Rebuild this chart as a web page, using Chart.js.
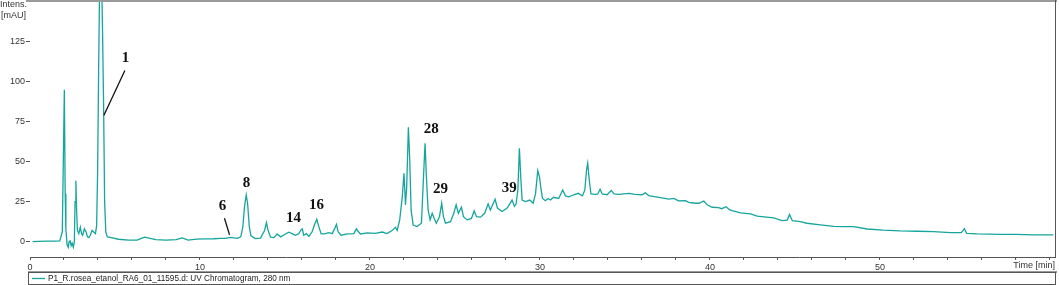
<!DOCTYPE html>
<html>
<head>
<meta charset="utf-8">
<script src="https://cdn.jsdelivr.net/npm/chart.js@4.4.1/dist/chart.umd.min.js"></script>
<style>
html,body{margin:0;padding:0;background:#fff;}
#wrap{width:1059px;height:285px;position:relative;}
</style>
</head>
<body>
<div id="wrap"><canvas id="c" width="1059" height="285"></canvas></div>
<script>
// Retention times (min)
const times = [
0.15,0.5,1.0,1.5,1.75,1.9,1.96,2.02,2.07,2.11,2.18,2.25,2.3,2.36,2.42,2.48,2.55,2.61,2.65,2.7,
2.74,2.79,2.87,2.96,3.03,3.1,3.2,3.3,3.38,3.46,3.55,3.65,3.75,3.85,3.92,3.98,4.04,4.09,4.15,4.22,
4.27,4.33,4.39,4.46,4.55,4.8,5.2,5.8,6.3,6.55,6.75,7.0,7.4,8.0,8.6,8.95,9.3,9.8,10.3,10.8,
11.2,11.5,11.8,12.2,12.4,12.52,12.62,12.72,12.8,12.9,13.0,13.26,13.56,13.8,13.91,14.0,14.15,14.35,14.54,14.74,
15.03,15.22,15.42,15.6,15.8,15.95,16.02,16.1,16.26,16.4,16.6,16.73,16.87,16.99,17.13,17.32,17.58,17.78,17.93,18.03,
18.13,18.3,18.66,19.05,19.2,19.3,19.44,19.84,20.32,20.72,21.0,21.3,21.5,21.6,21.75,21.9,22.0,22.09,22.16,22.26,
22.34,22.42,22.54,22.77,23.03,23.15,23.24,23.32,23.42,23.54,23.66,23.78,23.9,24.09,24.22,24.32,24.44,24.74,24.93,25.07,
25.2,25.38,25.5,25.72,25.97,26.13,26.27,26.5,26.75,26.95,27.08,27.36,27.5,27.77,28.07,28.36,28.5,28.6,28.7,28.79,
28.87,28.95,29.15,29.4,29.6,29.74,29.87,29.97,30.07,30.15,30.32,30.47,30.62,30.8,31.1,31.34,31.5,31.7,32.0,32.25,
32.5,32.64,32.74,32.81,32.9,33.0,33.26,33.4,33.54,33.66,33.95,34.2,34.36,34.63,35.22,35.6,36.0,36.2,36.4,37.0,
37.58,37.87,38.16,38.56,38.75,39.15,39.35,39.64,39.84,40.13,40.5,40.7,40.95,41.15,41.3,41.8,42.38,42.78,43.75,44.24,
44.55,44.68,44.85,45.32,45.7,46.5,47.28,47.8,48.46,49.25,50.2,51.2,52.2,53.16,54.14,54.79,54.97,55.1,55.72,57.09,
58.0,59.05,60.2
];
// UV intensity at 280 nm (mAU)
const intensities = [
0,0.2,0.3,0.3,0.5,6,50,95,30,8,-2,-3.5,0,0.5,-2.5,-1,-3.5,0,25,38,
20,7,5,9,5,4,8,6,3,2.5,4,7,6,5,10,45,110,155,175,160,
130,85,25,6,3,2.5,1.5,1,1,2,2.8,2.2,1.2,0.9,1.2,2.3,1,1.6,1.7,1.8,
2.1,2,2.7,2.1,3,9,22,29.2,24,9.4,3.6,1.9,2.2,7,11.9,7.3,2.8,2.5,4.8,3,
4.8,5.9,5,4,4.8,7.5,8,4,5,3.2,6.2,10.4,14,9.4,4.8,4.8,5.6,5,8.3,10.8,
6,4,4.8,5,8,6.5,4.8,5.5,5.2,6,5,6.9,9,7,13.6,28,42.7,23,34,71.5,
51,19.8,10.4,9.4,11.5,40.6,61.5,40.6,19.8,13.6,17.7,14.5,11.5,15.6,24,15.8,11.5,12.5,17.7,23,
17.7,21.5,15.6,13.6,14.5,19.2,15.6,15.3,17.7,23.6,19.8,26.5,21,18.8,21,26,22,23.6,32.3,58.3,
40.6,26,25,26,24,30,44.4,40.6,32.3,27,25.6,27,26,27.7,27,32.3,28.6,28,29.3,30.2,
28.6,32.3,44.8,49,38.5,29.8,29.6,29.8,32.7,29.8,29.3,32,29.8,29.6,30.2,29.6,29.3,30.5,28.8,27.7,
26.6,27,25.5,25.6,24.6,24,24,25.4,23,21.5,21.3,20.6,21.8,20,19.4,18,17.3,16,14.8,13.1,
13.5,17,13.1,12.5,11.5,10.5,9.6,9.4,9.4,7.9,7.2,6.7,6.5,6.3,5.6,5.6,8.1,5.2,4.8,4.6,
4.5,4.2,4.2
];
// Peak annotations: label, text anchor (time, mAU), optional leader line
const annLabels = ['1','6','8','14','16','28','29','39'];
const annTimes  = [5.62,11.32,12.74,15.5,16.85,23.6,24.15,28.2];
const annValues = [114.8,22.3,36.7,14.8,23,70.4,33,33.6];
const leaderLines = [
  {label:'1', from:[5.58,107], to:[4.35,79]},
  {label:'6', from:[11.44,14.6], to:[11.74,4.2]}
];
const xMajor = [0,10,20,30,40,50];
const yLabels = [0,25,50,75,100,125];
const seriesName = 'P1_R.rosea_etanol_RA6_01_11595.d: UV Chromatogram, 280 nm';

const TEAL = '#16a59c';
const FONT = '"Liberation Sans", Arial, sans-serif';

const points = times.map((t,i)=>({x:t,y:intensities[i]}));

const framePlugin = {
  id:'frame',
  afterDraw(chart){
    const ctx = chart.ctx, a = chart.chartArea;
    const xs = chart.scales.x, ys = chart.scales.y;
    ctx.save();
    // top gray border
    ctx.fillStyle = '#9a9a9a';
    ctx.fillRect(26, 0, 1057-26, 2);
    // right border
    ctx.strokeStyle = '#555';
    ctx.lineWidth = 1;
    ctx.beginPath(); ctx.moveTo(1055.5, 0); ctx.lineTo(1055.5, a.bottom); ctx.stroke();
    // axis caption texts
    ctx.fillStyle = '#333';
    ctx.font = '9px ' + FONT;
    ctx.textAlign = 'right'; ctx.textBaseline = 'middle';
    ctx.fillText('Intens.', 27, 5);
    ctx.fillText('[mAU]', 26, 16);
    ctx.fillText('Time [min]', 1055, 266);
    // legend box
    ctx.fillStyle = '#9a9a9a';
    ctx.fillRect(28, 271, 1057-28, 2);
    ctx.strokeStyle = '#555';
    ctx.strokeRect(28.5, 272.5, 1055.5-28.5, 12);
    ctx.strokeStyle = TEAL; ctx.lineWidth = 1.3;
    ctx.beginPath(); ctx.moveTo(32, 278.5); ctx.lineTo(45, 278.5); ctx.stroke();
    ctx.fillStyle = '#222';
    ctx.textAlign = 'left';
    ctx.font = '8.2px ' + FONT;
    ctx.fillText(seriesName, 48, 278.5);
    // peak annotations
    ctx.fillStyle = '#111';
    ctx.font = 'bold 15px "Liberation Serif", "Times New Roman", serif';
    ctx.textAlign = 'center'; ctx.textBaseline = 'middle';
    annLabels.forEach((l,i)=>{
      ctx.fillText(l, xs.getPixelForValue(annTimes[i]), ys.getPixelForValue(annValues[i]));
    });
    ctx.strokeStyle = '#111'; ctx.lineWidth = 1.3;
    leaderLines.forEach(ln=>{
      ctx.beginPath();
      ctx.moveTo(xs.getPixelForValue(ln.from[0]), ys.getPixelForValue(ln.from[1]));
      ctx.lineTo(xs.getPixelForValue(ln.to[0]), ys.getPixelForValue(ln.to[1]));
      ctx.stroke();
    });
    ctx.restore();
  }
};

new Chart(document.getElementById('c'), {
  type:'line',
  data:{datasets:[{
    label: seriesName,
    data: points,
    borderColor: TEAL,
    borderWidth: 1.3,
    pointRadius: 0,
    tension: 0,
    fill: false
  }]},
  options:{
    responsive:false,
    animation:false,
    devicePixelRatio:1,
    layout:{padding:{top:1,right:4,left:0,bottom:0}},
    plugins:{legend:{display:false},tooltip:{enabled:false}},
    scales:{
      x:{
        type:'linear', min:0, max:60.3,
        afterBuildTicks(s){ const t=[]; for(let v=0; v<=60; v+=2) t.push({value:v}); s.ticks=t; },
        afterFit(s){ s.height = 28; s.paddingLeft = 0; s.paddingRight = 0; },
        grid:{drawOnChartArea:false, tickLength:3, color:'#555', tickColor:'#555'},
        border:{display:true, color:'#555', width:1},
        ticks:{
          autoSkip:false, maxRotation:0, padding:2, color:'#333',
          font:{family:FONT, size:9},
          callback:(v)=> xMajor.includes(v) ? String(v) : ''
        }
      },
      y:{
        type:'linear', min:-9.6, max:150.4,
        afterBuildTicks(s){ s.ticks = yLabels.map(v=>({value:v})); },
        afterFit(s){ s.width = 30; s.paddingTop = 0; s.paddingBottom = 0; },
        grid:{drawOnChartArea:false, tickLength:4, color:'#555', tickColor:'#555'},
        border:{display:false},
        ticks:{
          autoSkip:false, padding:1, color:'#333',
          font:{family:FONT, size:9},
          callback:(v)=> String(v)
        }
      }
    }
  },
  plugins:[framePlugin]
});
</script>
</body>
</html>
